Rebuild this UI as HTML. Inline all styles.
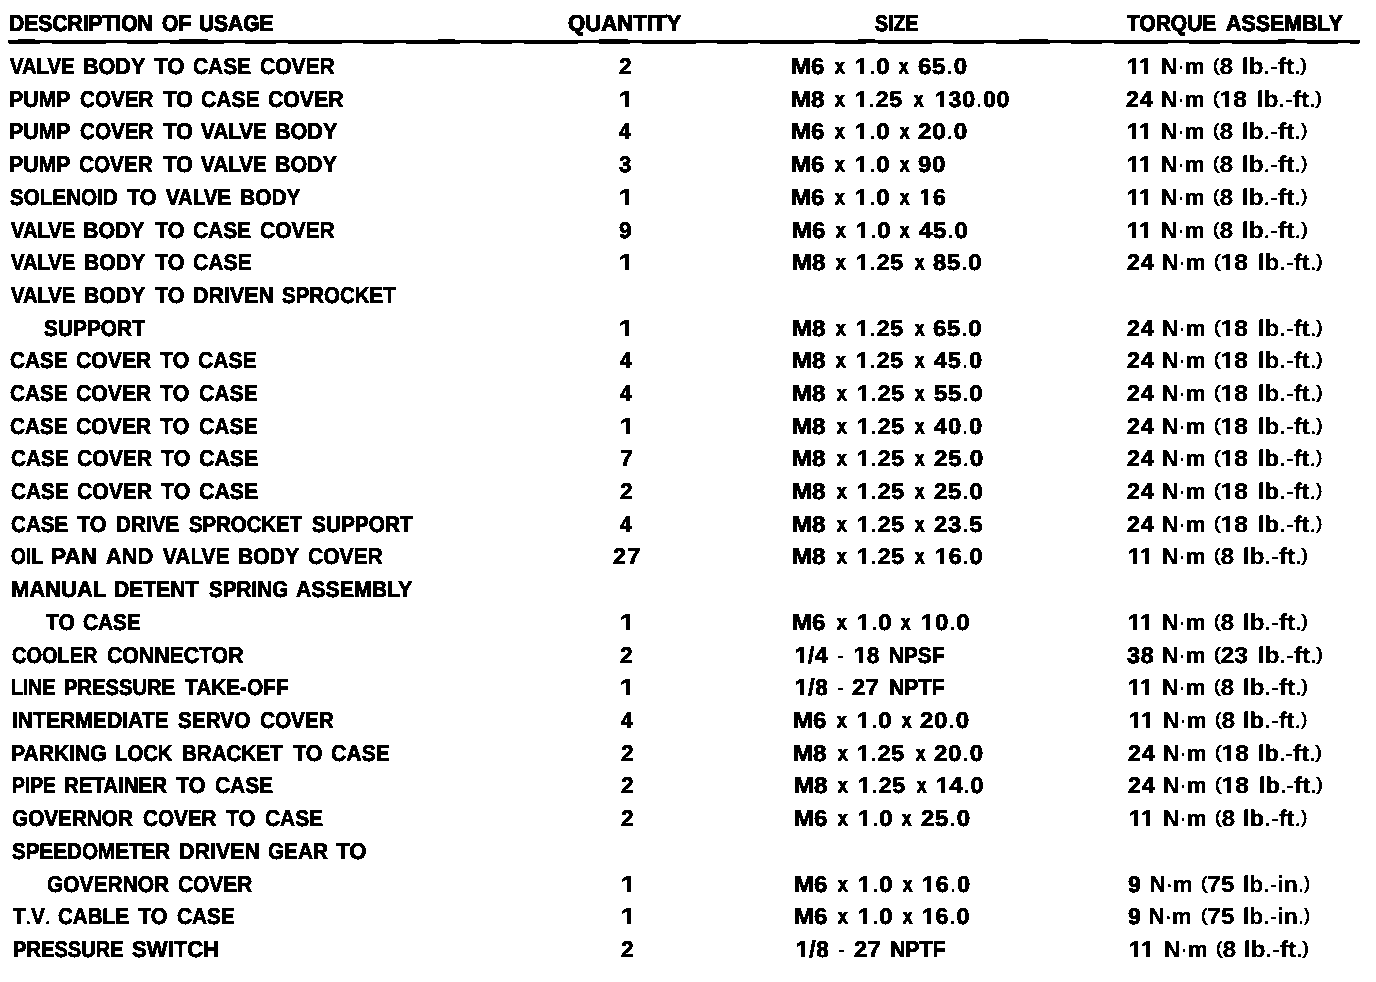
<!DOCTYPE html>
<html><head><meta charset="utf-8"><title>Torque specifications</title>
<style>
html,body{margin:0;padding:0;background:#fff;}
body{width:1376px;height:982px;position:relative;overflow:hidden;font-family:"Liberation Sans",sans-serif;color:#000;}
.r{position:absolute;left:0;width:1376px;height:28px;font-weight:bold;font-size:22.8px;line-height:28px;text-rendering:geometricPrecision;-webkit-text-stroke:0.75px #000;}
.r.h{font-size:23.0px;-webkit-text-stroke:1.1px #000;}
.r span{position:absolute;top:0;white-space:pre;transform-origin:0 0;}
.rule{position:absolute;left:8px;top:40px;width:1352px;height:3px;background:#000;}
.rule2{position:absolute;left:9px;top:43px;width:1350px;height:1px;background:repeating-linear-gradient(90deg,#000 0 31px,transparent 31px 43px,#000 43px 97px,transparent 97px 118px);}
.rule3{position:absolute;left:18px;top:39px;width:1300px;height:1px;background:repeating-linear-gradient(90deg,#000 0 17px,transparent 17px 161px,#000 161px 190px,transparent 190px 420px);}
.r i{font-style:normal;display:inline-block;clip-path:polygon(0 0,100% 0,100% 19px,calc(.3706em + .35px) 19px,calc(.3706em + .35px) 100%,calc(.2334em - .35px) 100%,calc(.2334em - .35px) 19px,0 19px);}
.r b{font-weight:400;font-size:17.9px;position:relative;top:-3.1px;-webkit-text-stroke:0.95px #000;}
.r s{text-decoration:none;font-weight:400;-webkit-text-stroke:0.15px #000;}
.r u{text-decoration:none;font-size:20.6px;position:relative;top:-0.6px;-webkit-text-stroke:1.25px #000;}
.r q{quotes:none;-webkit-text-stroke:0.3px #000;}
.r q b{-webkit-text-stroke:0.95px #000;}
.r q em{-webkit-text-stroke:0.45px #000;}
.r q s{-webkit-text-stroke:0.15px #000;}
.r em{font-style:normal;font-weight:400;-webkit-text-stroke:0.45px #000;}
#pg{position:absolute;left:0;top:0;width:1376px;height:982px;background:#fff;filter:url(#bw);}
</style></head><body>
<svg width="0" height="0" style="position:absolute"><defs><filter id="bw" x="0" y="0" width="100%" height="100%" color-interpolation-filters="sRGB">
<feColorMatrix type="matrix" values="0.34 0.33 0.33 0 0  0.34 0.33 0.33 0 0  0.34 0.33 0.33 0 0  0 0 0 1 0"/>
<feComponentTransfer><feFuncR type="discrete" tableValues="0 1"/><feFuncG type="discrete" tableValues="0 1"/><feFuncB type="discrete" tableValues="0 1"/></feComponentTransfer>
</filter></defs></svg>
<div id="pg">

<div class="r h" style="top:9px"><span style="left:9.09px;transform:scaleX(0.9147)">DESCRIPTION</span> <span style="left:162.04px;transform:scaleX(0.9200)">OF</span> <span style="left:198.82px;transform:scaleX(0.9102)">USAGE</span> <span style="left:567.62px;transform:scaleX(0.9626)">QUANTITY</span> <span style="left:875.00px;transform:scaleX(0.8473)">SIZE</span> <span style="left:1126.73px;transform:scaleX(0.9115)">TORQUE</span> <span style="left:1225.53px;transform:scaleX(0.9283)">ASSEMBLY</span></div>
<div class="rule"></div><div class="rule2"></div><div class="rule3"></div>
<div class="r" style="top:52px"><span style="left:10.22px;transform:scaleX(0.8862)">VALVE</span> <span style="left:82.57px;transform:scaleX(0.9459)">BODY</span> <span style="left:153.75px;transform:scaleX(0.9756)">TO</span> <span style="left:192.54px;transform:scaleX(0.9157)">CASE</span> <span style="left:259.54px;transform:scaleX(0.9226)">COVER</span> <span style="left:618.50px;transform:scaleX(0.9957)">2</span> <span style="left:790.68px;transform:scaleX(1.0583)">M6</span> <span style="left:834.82px;transform:scaleX(0.8226)"><u>x</u></span> <span style="left:854.95px;transform:scaleX(1.0400);letter-spacing:0.7px"><i>1</i><em>.</em>0</span> <span style="left:899.22px;transform:scaleX(0.8151)"><u>x</u></span> <span style="left:917.72px;transform:scaleX(1.0549);letter-spacing:0.7px">65<em>.</em>0</span> <span style="left:1126.95px;transform:scaleX(1.0390);letter-spacing:-1.0px"><i>1</i><i>1</i></span> <span style="left:1161.03px;transform:scaleX(0.9819)"><q>N<em>·</em>m</q></span> <span style="left:1213.20px;transform:scaleX(1.0725)"><q><b>(</b>8</q></span> <span style="left:1241.67px;transform:scaleX(1.0504)"><q>lb<em>.</em><s>-</s>ft<em>.</em><b>)</b></q></span></div>
<div class="r" style="top:85px"><span style="left:8.83px;transform:scaleX(0.9339)">PUMP</span> <span style="left:79.55px;transform:scaleX(0.9040)">COVER</span> <span style="left:162.50px;transform:scaleX(0.9593)">TO</span> <span style="left:200.79px;transform:scaleX(0.9237)">CASE</span> <span style="left:267.53px;transform:scaleX(0.9319)">COVER</span> <span style="left:618.50px;transform:scaleX(1.1200)"><i>1</i></span> <span style="left:790.68px;transform:scaleX(1.0583)">M8</span> <span style="left:835.02px;transform:scaleX(0.8226)"><u>x</u></span> <span style="left:854.99px;transform:scaleX(1.0111);letter-spacing:0.7px"><i>1</i><em>.</em>25</span> <span style="left:913.72px;transform:scaleX(0.8151)"><u>x</u></span> <span style="left:934.93px;transform:scaleX(1.0147);letter-spacing:0.7px"><i>1</i>30<em>.</em>00</span> <span style="left:1125.99px;transform:scaleX(1.0194);letter-spacing:0.7px">24</span> <span style="left:1161.03px;transform:scaleX(0.9819)"><q>N<em>·</em>m</q></span> <span style="left:1213.19px;transform:scaleX(1.0833)"><q><b>(</b><i>1</i>8</q></span> <span style="left:1256.67px;transform:scaleX(1.0504)"><q>lb<em>.</em><s>-</s>ft<em>.</em><b>)</b></q></span></div>
<div class="r" style="top:117px"><span style="left:8.83px;transform:scaleX(0.9339)">PUMP</span> <span style="left:79.55px;transform:scaleX(0.9040)">COVER</span> <span style="left:162.50px;transform:scaleX(0.9593)">TO</span> <span style="left:201.48px;transform:scaleX(0.9069)">VALVE</span> <span style="left:275.07px;transform:scaleX(0.9459)">BODY</span> <span style="left:619.20px;transform:scaleX(0.9000)">4</span> <span style="left:791.18px;transform:scaleX(1.0583)">M6</span> <span style="left:835.32px;transform:scaleX(0.8226)"><u>x</u></span> <span style="left:855.45px;transform:scaleX(1.0400);letter-spacing:0.7px"><i>1</i><em>.</em>0</span> <span style="left:899.72px;transform:scaleX(0.8151)"><u>x</u></span> <span style="left:918.22px;transform:scaleX(1.0604);letter-spacing:0.7px">20<em>.</em>0</span> <span style="left:1126.95px;transform:scaleX(1.0390);letter-spacing:-1.0px"><i>1</i><i>1</i></span> <span style="left:1161.03px;transform:scaleX(0.9819)"><q>N<em>·</em>m</q></span> <span style="left:1213.20px;transform:scaleX(1.0725)"><q><b>(</b>8</q></span> <span style="left:1241.66px;transform:scaleX(1.0588)"><q>lb<em>.</em><s>-</s>ft<em>.</em><b>)</b></q></span></div>
<div class="r" style="top:150px"><span style="left:8.83px;transform:scaleX(0.9339)">PUMP</span> <span style="left:79.04px;transform:scaleX(0.9102)">COVER</span> <span style="left:162.50px;transform:scaleX(0.9593)">TO</span> <span style="left:201.48px;transform:scaleX(0.9069)">VALVE</span> <span style="left:275.08px;transform:scaleX(0.9382)">BODY</span> <span style="left:619.06px;transform:scaleX(0.9750)">3</span> <span style="left:791.18px;transform:scaleX(1.0583)">M6</span> <span style="left:835.32px;transform:scaleX(0.8226)"><u>x</u></span> <span style="left:855.45px;transform:scaleX(1.0400);letter-spacing:0.7px"><i>1</i><em>.</em>0</span> <span style="left:899.72px;transform:scaleX(0.8151)"><u>x</u></span> <span style="left:918.23px;transform:scaleX(1.0500);letter-spacing:0.7px">90</span> <span style="left:1126.95px;transform:scaleX(1.0390);letter-spacing:-1.0px"><i>1</i><i>1</i></span> <span style="left:1161.03px;transform:scaleX(0.9819)"><q>N<em>·</em>m</q></span> <span style="left:1213.20px;transform:scaleX(1.0725)"><q><b>(</b>8</q></span> <span style="left:1241.66px;transform:scaleX(1.0588)"><q>lb<em>.</em><s>-</s>ft<em>.</em><b>)</b></q></span></div>
<div class="r" style="top:183px"><span style="left:9.77px;transform:scaleX(0.9049)">SOLENOID</span> <span style="left:127.00px;transform:scaleX(0.9512)">TO</span> <span style="left:166.47px;transform:scaleX(0.8966)">VALVE</span> <span style="left:240.10px;transform:scaleX(0.9189)">BODY</span> <span style="left:618.80px;transform:scaleX(1.1200)"><i>1</i></span> <span style="left:791.18px;transform:scaleX(1.0583)">M6</span> <span style="left:835.32px;transform:scaleX(0.8226)"><u>x</u></span> <span style="left:855.45px;transform:scaleX(1.0400);letter-spacing:0.7px"><i>1</i><em>.</em>0</span> <span style="left:899.72px;transform:scaleX(0.8151)"><u>x</u></span> <span style="left:919.50px;transform:scaleX(1.0000);letter-spacing:0.7px"><i>1</i>6</span> <span style="left:1126.95px;transform:scaleX(1.0390);letter-spacing:-1.0px"><i>1</i><i>1</i></span> <span style="left:1161.03px;transform:scaleX(0.9819)"><q>N<em>·</em>m</q></span> <span style="left:1213.20px;transform:scaleX(1.0725)"><q><b>(</b>8</q></span> <span style="left:1241.66px;transform:scaleX(1.0588)"><q>lb<em>.</em><s>-</s>ft<em>.</em><b>)</b></q></span></div>
<div class="r" style="top:216px"><span style="left:10.72px;transform:scaleX(0.8828)">VALVE</span> <span style="left:83.33px;transform:scaleX(0.9344)">BODY</span> <span style="left:154.50px;transform:scaleX(0.9512)">TO</span> <span style="left:193.29px;transform:scaleX(0.9157)">CASE</span> <span style="left:260.04px;transform:scaleX(0.9226)">COVER</span> <span style="left:619.00px;transform:scaleX(0.9957)">9</span> <span style="left:791.68px;transform:scaleX(1.0583)">M6</span> <span style="left:835.82px;transform:scaleX(0.8226)"><u>x</u></span> <span style="left:855.95px;transform:scaleX(1.0400);letter-spacing:0.7px"><i>1</i><em>.</em>0</span> <span style="left:900.22px;transform:scaleX(0.8151)"><u>x</u></span> <span style="left:919.25px;transform:scaleX(1.0489);letter-spacing:0.7px">45<em>.</em>0</span> <span style="left:1126.95px;transform:scaleX(1.0390);letter-spacing:-1.0px"><i>1</i><i>1</i></span> <span style="left:1161.03px;transform:scaleX(0.9819)"><q>N<em>·</em>m</q></span> <span style="left:1213.20px;transform:scaleX(1.0725)"><q><b>(</b>8</q></span> <span style="left:1241.66px;transform:scaleX(1.0630)"><q>lb<em>.</em><s>-</s>ft<em>.</em><b>)</b></q></span></div>
<div class="r" style="top:248px"><span style="left:10.72px;transform:scaleX(0.8828)">VALVE</span> <span style="left:83.84px;transform:scaleX(0.9266)">BODY</span> <span style="left:154.50px;transform:scaleX(0.9512)">TO</span> <span style="left:193.29px;transform:scaleX(0.9237)">CASE</span> <span style="left:619.00px;transform:scaleX(1.1200)"><i>1</i></span> <span style="left:791.68px;transform:scaleX(1.0583)">M8</span> <span style="left:836.02px;transform:scaleX(0.8226)"><u>x</u></span> <span style="left:855.99px;transform:scaleX(1.0111);letter-spacing:0.7px"><i>1</i><em>.</em>25</span> <span style="left:914.72px;transform:scaleX(0.8151)"><u>x</u></span> <span style="left:933.24px;transform:scaleX(1.0437);letter-spacing:0.7px">85<em>.</em>0</span> <span style="left:1126.99px;transform:scaleX(1.0194);letter-spacing:0.7px">24</span> <span style="left:1162.03px;transform:scaleX(0.9819)"><q>N<em>·</em>m</q></span> <span style="left:1214.19px;transform:scaleX(1.0833)"><q><b>(</b><i>1</i>8</q></span> <span style="left:1257.68px;transform:scaleX(1.0462)"><q>lb<em>.</em><s>-</s>ft<em>.</em><b>)</b></q></span></div>
<div class="r" style="top:281px"><span style="left:10.72px;transform:scaleX(0.8828)">VALVE</span> <span style="left:83.84px;transform:scaleX(0.9266)">BODY</span> <span style="left:154.50px;transform:scaleX(0.9512)">TO</span> <span style="left:192.57px;transform:scaleX(0.9403)">DRIVEN</span> <span style="left:282.28px;transform:scaleX(0.8972)">SPROCKET</span></div>
<div class="r" style="top:314px"><span style="left:43.52px;transform:scaleX(0.9159)">SUPPORT</span> <span style="left:619.20px;transform:scaleX(1.1200)"><i>1</i></span> <span style="left:791.93px;transform:scaleX(1.0583)">M8</span> <span style="left:836.27px;transform:scaleX(0.8226)"><u>x</u></span> <span style="left:856.24px;transform:scaleX(1.0111);letter-spacing:0.7px"><i>1</i><em>.</em>25</span> <span style="left:914.97px;transform:scaleX(0.8151)"><u>x</u></span> <span style="left:933.23px;transform:scaleX(1.0440);letter-spacing:0.7px">65<em>.</em>0</span> <span style="left:1126.99px;transform:scaleX(1.0194);letter-spacing:0.7px">24</span> <span style="left:1162.03px;transform:scaleX(0.9819)"><q>N<em>·</em>m</q></span> <span style="left:1214.19px;transform:scaleX(1.0833)"><q><b>(</b><i>1</i>8</q></span> <span style="left:1257.68px;transform:scaleX(1.0462)"><q>lb<em>.</em><s>-</s>ft<em>.</em><b>)</b></q></span></div>
<div class="r" style="top:346px"><span style="left:10.05px;transform:scaleX(0.9076)">CASE</span> <span style="left:75.79px;transform:scaleX(0.9288)">COVER</span> <span style="left:160.00px;transform:scaleX(0.9350)">TO</span> <span style="left:198.29px;transform:scaleX(0.9237)">CASE</span> <span style="left:619.90px;transform:scaleX(0.9000)">4</span> <span style="left:791.93px;transform:scaleX(1.0583)">M8</span> <span style="left:836.27px;transform:scaleX(0.8226)"><u>x</u></span> <span style="left:856.24px;transform:scaleX(1.0111);letter-spacing:0.7px"><i>1</i><em>.</em>25</span> <span style="left:914.97px;transform:scaleX(0.8151)"><u>x</u></span> <span style="left:933.75px;transform:scaleX(1.0326);letter-spacing:0.7px">45<em>.</em>0</span> <span style="left:1126.99px;transform:scaleX(1.0194);letter-spacing:0.7px">24</span> <span style="left:1162.03px;transform:scaleX(0.9819)"><q>N<em>·</em>m</q></span> <span style="left:1214.19px;transform:scaleX(1.0833)"><q><b>(</b><i>1</i>8</q></span> <span style="left:1257.68px;transform:scaleX(1.0462)"><q>lb<em>.</em><s>-</s>ft<em>.</em><b>)</b></q></span></div>
<div class="r" style="top:379px"><span style="left:10.30px;transform:scaleX(0.9076)">CASE</span> <span style="left:76.04px;transform:scaleX(0.9288)">COVER</span> <span style="left:160.25px;transform:scaleX(0.9350)">TO</span> <span style="left:198.54px;transform:scaleX(0.9277)">CASE</span> <span style="left:620.00px;transform:scaleX(0.9000)">4</span> <span style="left:792.43px;transform:scaleX(1.0583)">M8</span> <span style="left:836.77px;transform:scaleX(0.8226)"><u>x</u></span> <span style="left:856.74px;transform:scaleX(1.0111);letter-spacing:0.7px"><i>1</i><em>.</em>25</span> <span style="left:915.47px;transform:scaleX(0.8151)"><u>x</u></span> <span style="left:933.99px;transform:scaleX(1.0437);letter-spacing:0.7px">55<em>.</em>0</span> <span style="left:1126.99px;transform:scaleX(1.0194);letter-spacing:0.7px">24</span> <span style="left:1162.03px;transform:scaleX(0.9819)"><q>N<em>·</em>m</q></span> <span style="left:1214.19px;transform:scaleX(1.0833)"><q><b>(</b><i>1</i>8</q></span> <span style="left:1257.68px;transform:scaleX(1.0462)"><q>lb<em>.</em><s>-</s>ft<em>.</em><b>)</b></q></span></div>
<div class="r" style="top:412px"><span style="left:10.30px;transform:scaleX(0.9076)">CASE</span> <span style="left:76.04px;transform:scaleX(0.9288)">COVER</span> <span style="left:160.25px;transform:scaleX(0.9350)">TO</span> <span style="left:198.54px;transform:scaleX(0.9277)">CASE</span> <span style="left:619.50px;transform:scaleX(1.1200)"><i>1</i></span> <span style="left:792.43px;transform:scaleX(1.0583)">M8</span> <span style="left:836.77px;transform:scaleX(0.8226)"><u>x</u></span> <span style="left:856.74px;transform:scaleX(1.0111);letter-spacing:0.7px"><i>1</i><em>.</em>25</span> <span style="left:915.47px;transform:scaleX(0.8151)"><u>x</u></span> <span style="left:934.25px;transform:scaleX(1.0380);letter-spacing:0.7px">40<em>.</em>0</span> <span style="left:1126.99px;transform:scaleX(1.0194);letter-spacing:0.7px">24</span> <span style="left:1162.03px;transform:scaleX(0.9819)"><q>N<em>·</em>m</q></span> <span style="left:1214.19px;transform:scaleX(1.0833)"><q><b>(</b><i>1</i>8</q></span> <span style="left:1257.68px;transform:scaleX(1.0462)"><q>lb<em>.</em><s>-</s>ft<em>.</em><b>)</b></q></span></div>
<div class="r" style="top:444px"><span style="left:10.55px;transform:scaleX(0.9076)">CASE</span> <span style="left:76.54px;transform:scaleX(0.9257)">COVER</span> <span style="left:160.50px;transform:scaleX(0.9350)">TO</span> <span style="left:198.78px;transform:scaleX(0.9357)">CASE</span> <span style="left:619.69px;transform:scaleX(1.0174)">7</span> <span style="left:792.43px;transform:scaleX(1.0583)">M8</span> <span style="left:836.77px;transform:scaleX(0.8226)"><u>x</u></span> <span style="left:856.74px;transform:scaleX(1.0111);letter-spacing:0.7px"><i>1</i><em>.</em>25</span> <span style="left:915.47px;transform:scaleX(0.8151)"><u>x</u></span> <span style="left:933.72px;transform:scaleX(1.0604);letter-spacing:0.7px">25<em>.</em>0</span> <span style="left:1127.24px;transform:scaleX(1.0194);letter-spacing:0.7px">24</span> <span style="left:1162.28px;transform:scaleX(0.9819)"><q>N<em>·</em>m</q></span> <span style="left:1214.44px;transform:scaleX(1.0833)"><q><b>(</b><i>1</i>8</q></span> <span style="left:1257.94px;transform:scaleX(1.0420)"><q>lb<em>.</em><s>-</s>ft<em>.</em><b>)</b></q></span></div>
<div class="r" style="top:477px"><span style="left:10.55px;transform:scaleX(0.9076)">CASE</span> <span style="left:76.54px;transform:scaleX(0.9257)">COVER</span> <span style="left:160.50px;transform:scaleX(0.9350)">TO</span> <span style="left:198.78px;transform:scaleX(0.9357)">CASE</span> <span style="left:619.80px;transform:scaleX(0.9957)">2</span> <span style="left:792.43px;transform:scaleX(1.0583)">M8</span> <span style="left:836.77px;transform:scaleX(0.8226)"><u>x</u></span> <span style="left:856.74px;transform:scaleX(1.0111);letter-spacing:0.7px"><i>1</i><em>.</em>25</span> <span style="left:915.47px;transform:scaleX(0.8151)"><u>x</u></span> <span style="left:933.73px;transform:scaleX(1.0495);letter-spacing:0.7px">25<em>.</em>0</span> <span style="left:1127.24px;transform:scaleX(1.0194);letter-spacing:0.7px">24</span> <span style="left:1162.28px;transform:scaleX(0.9819)"><q>N<em>·</em>m</q></span> <span style="left:1214.44px;transform:scaleX(1.0833)"><q><b>(</b><i>1</i>8</q></span> <span style="left:1257.94px;transform:scaleX(1.0420)"><q>lb<em>.</em><s>-</s>ft<em>.</em><b>)</b></q></span></div>
<div class="r" style="top:510px"><span style="left:10.80px;transform:scaleX(0.9036)">CASE</span> <span style="left:77.00px;transform:scaleX(0.9512)">TO</span> <span style="left:115.86px;transform:scaleX(0.9081)">DRIVE</span> <span style="left:189.28px;transform:scaleX(0.8933)">SPROCKET</span> <span style="left:311.77px;transform:scaleX(0.9136)">SUPPORT</span> <span style="left:620.40px;transform:scaleX(0.9000)">4</span> <span style="left:792.43px;transform:scaleX(1.0583)">M8</span> <span style="left:836.77px;transform:scaleX(0.8226)"><u>x</u></span> <span style="left:856.74px;transform:scaleX(1.0111);letter-spacing:0.7px"><i>1</i><em>.</em>25</span> <span style="left:915.47px;transform:scaleX(0.8151)"><u>x</u></span> <span style="left:933.73px;transform:scaleX(1.0437);letter-spacing:0.7px">23<em>.</em>5</span> <span style="left:1127.24px;transform:scaleX(1.0194);letter-spacing:0.7px">24</span> <span style="left:1162.28px;transform:scaleX(0.9819)"><q>N<em>·</em>m</q></span> <span style="left:1214.44px;transform:scaleX(1.0833)"><q><b>(</b><i>1</i>8</q></span> <span style="left:1257.94px;transform:scaleX(1.0420)"><q>lb<em>.</em><s>-</s>ft<em>.</em><b>)</b></q></span></div>
<div class="r" style="top:542px"><span style="left:10.83px;transform:scaleX(0.8389)">OIL</span> <span style="left:51.26px;transform:scaleX(0.9943)">PAN</span> <span style="left:106.01px;transform:scaleX(0.9536)">AND</span> <span style="left:162.73px;transform:scaleX(0.9138)">VALVE</span> <span style="left:237.59px;transform:scaleX(0.9266)">BODY</span> <span style="left:308.29px;transform:scaleX(0.9226)">COVER</span> <span style="left:612.84px;transform:scaleX(1.0196);letter-spacing:1.3px">27</span> <span style="left:792.43px;transform:scaleX(1.0583)">M8</span> <span style="left:836.77px;transform:scaleX(0.8226)"><u>x</u></span> <span style="left:856.74px;transform:scaleX(1.0111);letter-spacing:0.7px"><i>1</i><em>.</em>25</span> <span style="left:915.47px;transform:scaleX(0.8151)"><u>x</u></span> <span style="left:934.97px;transform:scaleX(1.0223);letter-spacing:0.7px"><i>1</i>6<em>.</em>0</span> <span style="left:1128.20px;transform:scaleX(1.0390);letter-spacing:-1.0px"><i>1</i><i>1</i></span> <span style="left:1162.28px;transform:scaleX(0.9819)"><q>N<em>·</em>m</q></span> <span style="left:1214.45px;transform:scaleX(1.0725)"><q><b>(</b>8</q></span> <span style="left:1242.92px;transform:scaleX(1.0504)"><q>lb<em>.</em><s>-</s>ft<em>.</em><b>)</b></q></span></div>
<div class="r" style="top:575px"><span style="left:11.29px;transform:scaleX(0.9640)">MANUAL</span> <span style="left:114.34px;transform:scaleX(0.9250)">DETENT</span> <span style="left:208.52px;transform:scaleX(0.9072)">SPRING</span> <span style="left:296.02px;transform:scaleX(0.9337)">ASSEMBLY</span></div>
<div class="r" style="top:608px"><span style="left:46.25px;transform:scaleX(0.9187)">TO</span> <span style="left:83.29px;transform:scaleX(0.9116)">CASE</span> <span style="left:620.10px;transform:scaleX(1.1200)"><i>1</i></span> <span style="left:792.43px;transform:scaleX(1.0583)">M6</span> <span style="left:836.57px;transform:scaleX(0.8226)"><u>x</u></span> <span style="left:856.70px;transform:scaleX(1.0400);letter-spacing:0.7px"><i>1</i><em>.</em>0</span> <span style="left:900.97px;transform:scaleX(0.8151)"><u>x</u></span> <span style="left:920.69px;transform:scaleX(1.0447);letter-spacing:0.7px"><i>1</i>0<em>.</em>0</span> <span style="left:1128.20px;transform:scaleX(1.0390);letter-spacing:-1.0px"><i>1</i><i>1</i></span> <span style="left:1162.28px;transform:scaleX(0.9819)"><q>N<em>·</em>m</q></span> <span style="left:1214.45px;transform:scaleX(1.0725)"><q><b>(</b>8</q></span> <span style="left:1242.92px;transform:scaleX(1.0504)"><q>lb<em>.</em><s>-</s>ft<em>.</em><b>)</b></q></span></div>
<div class="r" style="top:641px"><span style="left:11.56px;transform:scaleX(0.8763)">COOLER</span> <span style="left:106.53px;transform:scaleX(0.9315)">CONNECTOR</span> <span style="left:620.30px;transform:scaleX(0.9957)">2</span> <span style="left:795.03px;transform:scaleX(0.9766);letter-spacing:0.7px"><i>1</i>/4</span> <span style="left:836.63px;transform:scaleX(0.8696)"><s>-</s></span> <span style="left:853.79px;transform:scaleX(0.9694);letter-spacing:0.7px"><i>1</i>8</span> <span style="left:888.86px;transform:scaleX(0.9110)">NPSF</span> <span style="left:1127.49px;transform:scaleX(1.0294);letter-spacing:0.7px">38</span> <span style="left:1162.28px;transform:scaleX(0.9819)"><q>N<em>·</em>m</q></span> <span style="left:1214.43px;transform:scaleX(1.0924)"><q><b>(</b>23</q></span> <span style="left:1257.92px;transform:scaleX(1.0504)"><q>lb<em>.</em><s>-</s>ft<em>.</em><b>)</b></q></span></div>
<div class="r" style="top:673px"><span style="left:11.43px;transform:scaleX(0.8557)">LINE</span> <span style="left:64.39px;transform:scaleX(0.8848)">PRESSURE</span> <span style="left:184.50px;transform:scaleX(0.9115)">TAKE-OFF</span> <span style="left:620.30px;transform:scaleX(1.1200)"><i>1</i></span> <span style="left:795.01px;transform:scaleX(0.9921);letter-spacing:0.7px"><i>1</i>/8</span> <span style="left:836.63px;transform:scaleX(0.8696)"><s>-</s></span> <span style="left:852.49px;transform:scaleX(1.0300);letter-spacing:0.7px">27</span> <span style="left:888.84px;transform:scaleX(0.9307)">NPTF</span> <span style="left:1128.20px;transform:scaleX(1.0390);letter-spacing:-1.0px"><i>1</i><i>1</i></span> <span style="left:1162.28px;transform:scaleX(0.9819)"><q>N<em>·</em>m</q></span> <span style="left:1214.45px;transform:scaleX(1.0725)"><q><b>(</b>8</q></span> <span style="left:1242.92px;transform:scaleX(1.0504)"><q>lb<em>.</em><s>-</s>ft<em>.</em><b>)</b></q></span></div>
<div class="r" style="top:706px"><span style="left:11.84px;transform:scaleX(0.9254)">INTERMEDIATE</span> <span style="left:177.77px;transform:scaleX(0.9108)">SERVO</span> <span style="left:259.54px;transform:scaleX(0.9102)">COVER</span> <span style="left:621.00px;transform:scaleX(0.9000)">4</span> <span style="left:793.18px;transform:scaleX(1.0583)">M6</span> <span style="left:837.32px;transform:scaleX(0.8226)"><u>x</u></span> <span style="left:857.45px;transform:scaleX(1.0400);letter-spacing:0.7px"><i>1</i><em>.</em>0</span> <span style="left:901.72px;transform:scaleX(0.8151)"><u>x</u></span> <span style="left:920.22px;transform:scaleX(1.0549);letter-spacing:0.7px">20<em>.</em>0</span> <span style="left:1128.70px;transform:scaleX(1.0390);letter-spacing:-1.0px"><i>1</i><i>1</i></span> <span style="left:1162.78px;transform:scaleX(0.9819)"><q>N<em>·</em>m</q></span> <span style="left:1214.95px;transform:scaleX(1.0725)"><q><b>(</b>8</q></span> <span style="left:1243.44px;transform:scaleX(1.0420)"><q>lb<em>.</em><s>-</s>ft<em>.</em><b>)</b></q></span></div>
<div class="r" style="top:739px"><span style="left:11.34px;transform:scaleX(0.9259)">PARKING</span> <span style="left:115.14px;transform:scaleX(0.8902)">LOCK</span> <span style="left:181.87px;transform:scaleX(0.9025)">BRACKET</span> <span style="left:292.50px;transform:scaleX(0.9512)">TO</span> <span style="left:330.78px;transform:scaleX(0.9317)">CASE</span> <span style="left:620.60px;transform:scaleX(0.9957)">2</span> <span style="left:793.18px;transform:scaleX(1.0583)">M8</span> <span style="left:837.52px;transform:scaleX(0.8226)"><u>x</u></span> <span style="left:857.49px;transform:scaleX(1.0111);letter-spacing:0.7px"><i>1</i><em>.</em>25</span> <span style="left:916.22px;transform:scaleX(0.8151)"><u>x</u></span> <span style="left:934.47px;transform:scaleX(1.0549);letter-spacing:0.7px">20<em>.</em>0</span> <span style="left:1127.74px;transform:scaleX(1.0194);letter-spacing:0.7px">24</span> <span style="left:1162.78px;transform:scaleX(0.9819)"><q>N<em>·</em>m</q></span> <span style="left:1214.94px;transform:scaleX(1.0833)"><q><b>(</b><i>1</i>8</q></span> <span style="left:1258.45px;transform:scaleX(1.0336)"><q>lb<em>.</em><s>-</s>ft<em>.</em><b>)</b></q></span></div>
<div class="r" style="top:771px"><span style="left:11.94px;transform:scaleX(0.8458)">PIPE</span> <span style="left:63.88px;transform:scaleX(0.8967)">RETAINER</span> <span style="left:176.25px;transform:scaleX(0.9512)">TO</span> <span style="left:215.04px;transform:scaleX(0.9157)">CASE</span> <span style="left:620.70px;transform:scaleX(0.9957)">2</span> <span style="left:793.68px;transform:scaleX(1.0583)">M8</span> <span style="left:838.02px;transform:scaleX(0.8226)"><u>x</u></span> <span style="left:857.99px;transform:scaleX(1.0111);letter-spacing:0.7px"><i>1</i><em>.</em>25</span> <span style="left:916.72px;transform:scaleX(0.8151)"><u>x</u></span> <span style="left:936.23px;transform:scaleX(1.0168);letter-spacing:0.7px"><i>1</i>4<em>.</em>0</span> <span style="left:1128.24px;transform:scaleX(1.0194);letter-spacing:0.7px">24</span> <span style="left:1163.28px;transform:scaleX(0.9819)"><q>N<em>·</em>m</q></span> <span style="left:1215.44px;transform:scaleX(1.0833)"><q><b>(</b><i>1</i>8</q></span> <span style="left:1258.95px;transform:scaleX(1.0336)"><q>lb<em>.</em><s>-</s>ft<em>.</em><b>)</b></q></span></div>
<div class="r" style="top:804px"><span style="left:12.05px;transform:scaleX(0.9094)">GOVERNOR</span> <span style="left:142.55px;transform:scaleX(0.9071)">COVER</span> <span style="left:226.25px;transform:scaleX(0.9350)">TO</span> <span style="left:264.54px;transform:scaleX(0.9157)">CASE</span> <span style="left:620.80px;transform:scaleX(0.9957)">2</span> <span style="left:793.68px;transform:scaleX(1.0583)">M6</span> <span style="left:837.82px;transform:scaleX(0.8226)"><u>x</u></span> <span style="left:857.95px;transform:scaleX(1.0400);letter-spacing:0.7px"><i>1</i><em>.</em>0</span> <span style="left:902.22px;transform:scaleX(0.8151)"><u>x</u></span> <span style="left:920.72px;transform:scaleX(1.0549);letter-spacing:0.7px">25<em>.</em>0</span> <span style="left:1128.70px;transform:scaleX(1.0390);letter-spacing:-1.0px"><i>1</i><i>1</i></span> <span style="left:1162.78px;transform:scaleX(0.9819)"><q>N<em>·</em>m</q></span> <span style="left:1214.95px;transform:scaleX(1.0725)"><q><b>(</b>8</q></span> <span style="left:1243.44px;transform:scaleX(1.0420)"><q>lb<em>.</em><s>-</s>ft<em>.</em><b>)</b></q></span></div>
<div class="r" style="top:837px"><span style="left:12.27px;transform:scaleX(0.9054)">SPEEDOMETER</span> <span style="left:178.82px;transform:scaleX(0.9403)">DRIVEN</span> <span style="left:267.55px;transform:scaleX(0.9084)">GEAR</span> <span style="left:336.25px;transform:scaleX(0.9756)">TO</span></div>
<div class="r" style="top:870px"><span style="left:46.54px;transform:scaleX(0.9189)">GOVERNOR</span> <span style="left:177.54px;transform:scaleX(0.9164)">COVER</span> <span style="left:620.90px;transform:scaleX(1.1200)"><i>1</i></span> <span style="left:794.18px;transform:scaleX(1.0583)">M6</span> <span style="left:838.32px;transform:scaleX(0.8226)"><u>x</u></span> <span style="left:858.45px;transform:scaleX(1.0400);letter-spacing:0.7px"><i>1</i><em>.</em>0</span> <span style="left:902.72px;transform:scaleX(0.8151)"><u>x</u></span> <span style="left:922.46px;transform:scaleX(1.0335);letter-spacing:0.7px"><i>1</i>6<em>.</em>0</span> <span style="left:1128.24px;transform:scaleX(1.0213)">9</span> <span style="left:1149.82px;transform:scaleX(0.9518)"><q>N<em>·</em>m</q></span> <span style="left:1201.20px;transform:scaleX(1.0667)"><q><b>(</b>75</q></span> <span style="left:1243.49px;transform:scaleX(1.0039)"><q>lb<em>.</em><s>-</s>in<em>.</em><b>)</b></q></span></div>
<div class="r" style="top:902px"><span style="left:13.00px;transform:scaleX(0.8938)">T<em>.</em>V<em>.</em></span> <span style="left:58.30px;transform:scaleX(0.9032)">CABLE</span> <span style="left:138.00px;transform:scaleX(0.9431)">TO</span> <span style="left:177.04px;transform:scaleX(0.9116)">CASE</span> <span style="left:621.00px;transform:scaleX(1.1200)"><i>1</i></span> <span style="left:794.18px;transform:scaleX(1.0583)">M6</span> <span style="left:838.32px;transform:scaleX(0.8226)"><u>x</u></span> <span style="left:858.45px;transform:scaleX(1.0400);letter-spacing:0.7px"><i>1</i><em>.</em>0</span> <span style="left:902.72px;transform:scaleX(0.8151)"><u>x</u></span> <span style="left:922.48px;transform:scaleX(1.0168);letter-spacing:0.7px"><i>1</i>6<em>.</em>0</span> <span style="left:1127.74px;transform:scaleX(1.0213)">9</span> <span style="left:1149.32px;transform:scaleX(0.9518)"><q>N<em>·</em>m</q></span> <span style="left:1200.70px;transform:scaleX(1.0667)"><q><b>(</b>75</q></span> <span style="left:1242.99px;transform:scaleX(1.0039)"><q>lb<em>.</em><s>-</s>in<em>.</em><b>)</b></q></span></div>
<div class="r" style="top:935px"><span style="left:12.65px;transform:scaleX(0.8828)">PRESSURE</span> <span style="left:132.26px;transform:scaleX(0.9689)">SWITCH</span> <span style="left:621.20px;transform:scaleX(0.9957)">2</span> <span style="left:796.26px;transform:scaleX(0.9921);letter-spacing:0.7px"><i>1</i>/8</span> <span style="left:837.88px;transform:scaleX(0.8696)"><s>-</s></span> <span style="left:853.74px;transform:scaleX(1.0300);letter-spacing:0.7px">27</span> <span style="left:890.09px;transform:scaleX(0.9307)">NPTF</span> <span style="left:1129.45px;transform:scaleX(1.0390);letter-spacing:-1.0px"><i>1</i><i>1</i></span> <span style="left:1163.53px;transform:scaleX(0.9819)"><q>N<em>·</em>m</q></span> <span style="left:1215.70px;transform:scaleX(1.0725)"><q><b>(</b>8</q></span> <span style="left:1244.17px;transform:scaleX(1.0504)"><q>lb<em>.</em><s>-</s>ft<em>.</em><b>)</b></q></span></div>
</div>
</body></html>
